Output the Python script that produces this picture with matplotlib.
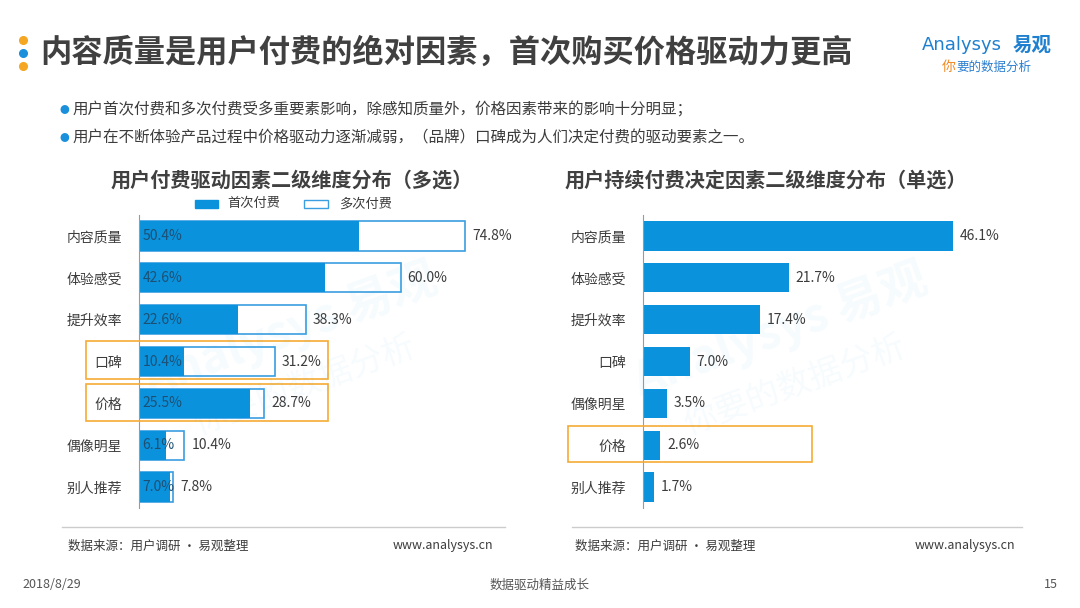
import matplotlib
matplotlib.use("Agg")
import matplotlib.pyplot as plt
from matplotlib.patches import Rectangle

plt.rcParams['font.family'] = ['Noto Sans CJK SC', 'DejaVu Sans']

# data
cats_left = ['内容质量', '体验感受', '提升效率', '口碑', '价格', '偶像明星', '别人推荐']
first_pay = [50.4, 42.6, 22.6, 10.4, 25.5, 6.1, 7.0]
multi_pay = [74.8, 60.0, 38.3, 31.2, 28.7, 10.4, 7.8]

cats_right = ['内容质量', '体验感受', '提升效率', '口碑', '偶像明星', '价格', '别人推荐']
cont_pay = [46.1, 21.7, 17.4, 7.0, 3.5, 2.6, 1.7]

BLUE = '#0a93dc'
EDGE = '#3a9ee0'
ORANGE = '#f5ab35'
DARK = '#404040'
TXT = '#3c3c3c'

W, H = 1080, 608
fig = plt.figure(figsize=(W / 100, H / 100), dpi=100)


def px_axes(x0, y0, x1, y1):
    # pixel box (top-left origin) -> axes
    return fig.add_axes([x0 / W, 1 - y1 / H, (x1 - x0) / W, (y1 - y0) / H])


def ftext(x, y, s, **kw):
    fig.text(x / W, 1 - y / H, s, **kw)


def frect(x0, y0, x1, y1, **kw):
    fig.patches.append(Rectangle((x0 / W, 1 - y1 / H), (x1 - x0) / W, (y1 - y0) / H,
                                 transform=fig.transFigure, figure=fig, **kw))


# header
for yy, c in zip([40, 53, 66], ['#f5a623', '#1a8fdc', '#f5a623']):
    fig.add_artist(plt.Line2D([23 / W], [1 - yy / H], marker='o', markersize=5.5,
                              color=c, linestyle='none'))
ftext(40, 53, '内容质量是用户付费的绝对因素，首次购买价格驱动力更高', fontsize=22.5,
      fontweight='bold', color=DARK, va='center', ha='left')
ftext(922, 45, 'Analysys', fontsize=13, color='#1f80d0',
      va='center', ha='left', family=['DejaVu Sans'])
ftext(1052, 45, '易观', fontsize=14, fontweight='bold', color='#1f80d0',
      va='center', ha='right')
ftext(942, 67, '你', fontsize=10, color='#f08a24', va='center', ha='left')
ftext(956, 67, '要的数据分析', fontsize=9, color='#2a7fd0', style='italic',
      va='center', ha='left')

# bullets
for yy, s in zip([110, 138], ['用户首次付费和多次付费受多重要素影响，除感知质量外，价格因素带来的影响十分明显；',
                              '用户在不断体验产品过程中价格驱动力逐渐减弱，（品牌）口碑成为人们决定付费的驱动要素之一。']):
    ftext(64, yy, '●', fontsize=7, color='#1a8fdc', va='center', ha='center')
    ftext(73, yy, s, fontsize=11.2, color=TXT, va='center', ha='left')

# left chart
ax1 = px_axes(139, 215.1, 500, 507.9)
ax1.set_xlim(0, 361 / 4.36)
ax1.set_ylim(6.5, -0.5)
ys = range(len(cats_left))
ax1.barh(ys, multi_pay, height=0.7, color='white', edgecolor=EDGE, linewidth=1.2)
ax1.barh(ys, first_pay, height=0.7, color=BLUE, linewidth=0)
for i in ys:
    ax1.text(0.8, i, f'{first_pay[i]:.1f}%', va='center', ha='left', fontsize=10,
             color='#1d4f73')
    ax1.text(multi_pay[i] + 1.6, i, f'{multi_pay[i]:.1f}%', va='center', ha='left',
             fontsize=10, color=TXT)
ax1.set_yticks(list(ys))
ax1.set_yticklabels(cats_left, fontsize=10, color=TXT)
ax1.tick_params(axis='y', length=0, pad=12)
ax1.set_xticks([])
for s in ['top', 'right', 'bottom']:
    ax1.spines[s].set_visible(False)
ax1.spines['left'].set_color('#9a9a9a')
ax1.spines['left'].set_linewidth(0.8)
ax1.patch.set_alpha(0)

ftext(292, 180, '用户付费驱动因素二级维度分布（多选）', fontsize=14.5, fontweight='bold',
      color=DARK, va='center', ha='center')
frect(195, 200, 218, 208, color=BLUE)
ftext(227, 204, '首次付费', fontsize=9.5, color=TXT, va='center', ha='left')
frect(304, 200, 328, 208, facecolor='white', edgecolor=EDGE, linewidth=1)
ftext(339, 204, '多次付费', fontsize=9.5, color=TXT, va='center', ha='left')

for y0, y1 in [(341, 379), (384, 421)]:
    frect(86, y0, 328, y1, facecolor='none', edgecolor=ORANGE, linewidth=1.2)

# right chart
ax2 = px_axes(643, 215.1, 1000, 507.9)
ax2.set_xlim(0, 357 / 6.72)
ax2.set_ylim(6.5, -0.5)
ys2 = range(len(cats_right))
ax2.barh(ys2, cont_pay, height=0.7, color=BLUE, linewidth=0)
for i in ys2:
    ax2.text(cont_pay[i] + 1.0, i, f'{cont_pay[i]:.1f}%', va='center', ha='left',
             fontsize=10, color=TXT)
ax2.set_yticks(list(ys2))
ax2.set_yticklabels(cats_right, fontsize=10, color=TXT)
ax2.tick_params(axis='y', length=0, pad=12)
ax2.set_xticks([])
for s in ['top', 'right', 'bottom']:
    ax2.spines[s].set_visible(False)
ax2.spines['left'].set_color('#9a9a9a')
ax2.spines['left'].set_linewidth(0.8)
ax2.patch.set_alpha(0)

ftext(766, 180, '用户持续付费决定因素二级维度分布（单选）', fontsize=14.5, fontweight='bold',
      color=DARK, va='center', ha='center')
frect(568, 426, 812, 462, facecolor='none', edgecolor=ORANGE, linewidth=1.2)

# watermarks
for cx in [290, 780]:
    ftext(cx, 330, 'Analysys 易观', fontsize=34, fontweight='bold', color='#0a93dc',
          alpha=0.04, rotation=20, ha='center', va='center')
    ftext(cx + 15, 385, '你要的数据分析', fontsize=24, color='#0a93dc', alpha=0.04,
          rotation=20, ha='center', va='center')

# footer
for x0, x1 in [(62, 505), (572, 1022)]:
    fig.add_artist(plt.Line2D([x0 / W, x1 / W], [1 - 527 / H] * 2, color='#cccccc',
                              linewidth=1))
ftext(68, 546, '数据来源：用户调研 · 易观整理', fontsize=9, color=TXT, va='center', ha='left')
ftext(493, 546, 'www.analysys.cn', fontsize=9, color=TXT, va='center', ha='right')
ftext(575, 546, '数据来源：用户调研 · 易观整理', fontsize=9, color=TXT, va='center', ha='left')
ftext(1015, 546, 'www.analysys.cn', fontsize=9, color=TXT, va='center', ha='right')

ftext(22, 584, '2018/8/29', fontsize=9, color='#555555', va='center', ha='left')
ftext(540, 585, '数据驱动精益成长', fontsize=9, color='#555555', va='center', ha='center')
ftext(1058, 584, '15', fontsize=9, color='#555555', va='center', ha='right')

fig.savefig('out.png', dpi=100, facecolor='white')
